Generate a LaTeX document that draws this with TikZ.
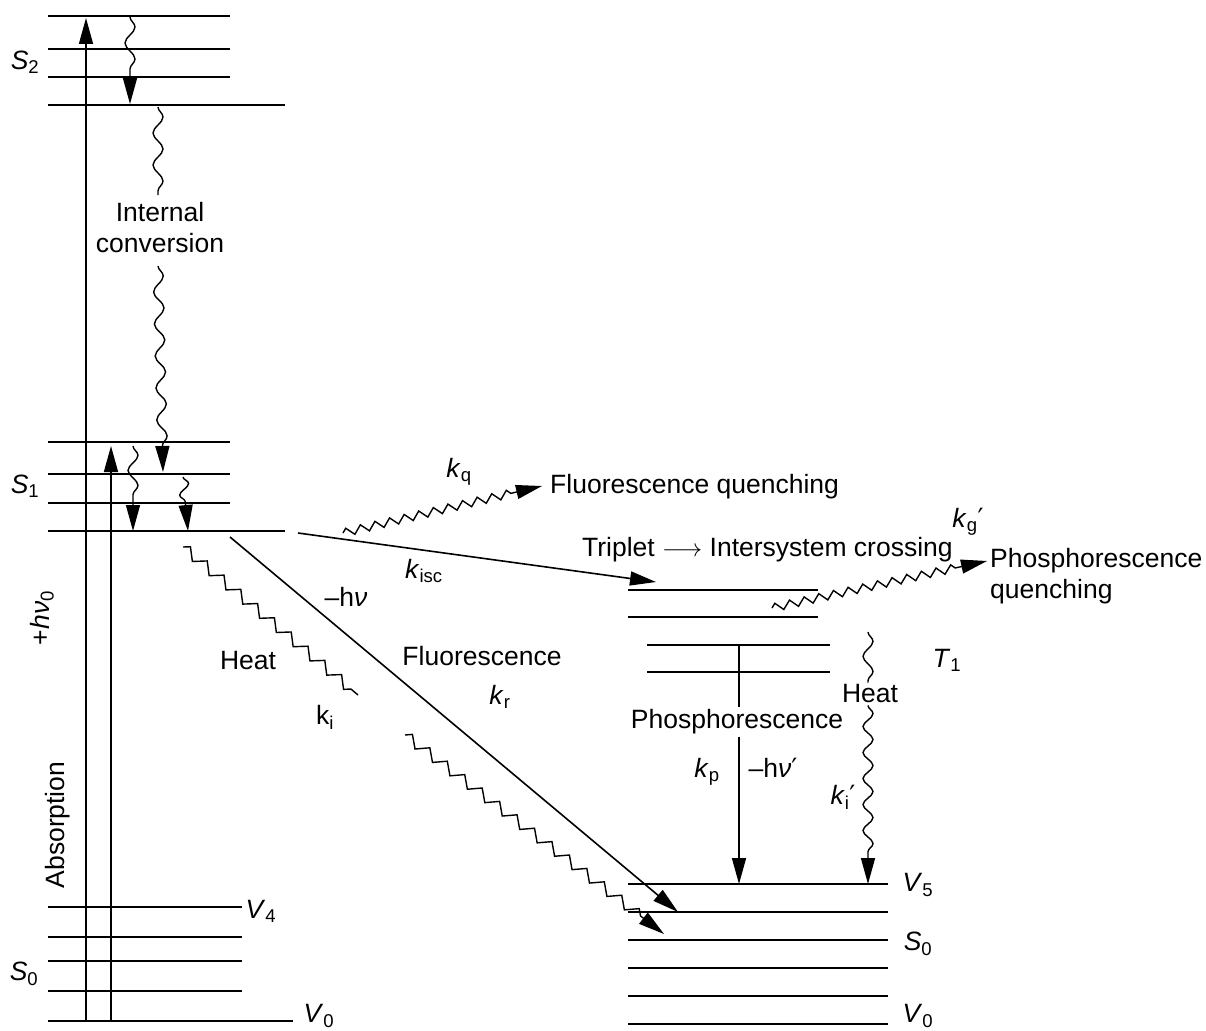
\documentclass[tikz,border=0pt]{standalone}
\usepackage{fontspec}
\setmainfont{Liberation Sans}
\newfontfamily\djv{DejaVu Sans}
\usetikzlibrary{arrows.meta,decorations.pathmorphing}
\newcommand{\prm}{{\djv ′}}
\begin{document}
\begin{tikzpicture}[x=1pt,y=-1pt,
  lvl/.style={line width=1.6pt},
  bigtip/.style={-{Triangle[length=26pt,width=14pt]}},
  arr/.style={line width=1.6pt,bigtip},
  snk/.style={line width=1.4pt,decorate,decoration={snake,segment length=32pt,amplitude=5pt,post length=26pt}},
  zz/.style={line width=1.4pt,decorate,decoration={zigzag,segment length=22pt,amplitude=5pt,post length=20pt}},
  zq/.style={line width=1.4pt,decorate,decoration={zigzag,segment length=15pt,amplitude=4pt,post length=26pt}},
  lbl/.style={font=\fontsize{26.5}{31}\selectfont,inner sep=1pt},
  every node/.style={lbl}]
\useasboundingbox (0,0) rectangle (1206,1030);
% ---- left levels
\foreach \y in {16,49,77} \draw[lvl] (48,\y) -- (230,\y);
\draw[lvl] (48,105) -- (285,105);
\foreach \y in {442,474,503} \draw[lvl] (48,\y) -- (230,\y);
\draw[lvl] (48,531) -- (285,531);
\foreach \y in {907,937,961,991} \draw[lvl] (48,\y) -- (242,\y);
\draw[lvl] (48,1021) -- (293,1021);
% ---- right levels
\draw[lvl] (628,590) -- (818,590);
\draw[lvl] (628,617) -- (818,617);
\draw[lvl] (647,645) -- (830,645);
\draw[lvl] (647,672) -- (830,672);
\foreach \y in {884,912,940,968,996,1024} \draw[lvl] (628,\y) -- (888,\y);
% ---- coordinates
\coordinate (a1s) at (86,1021);  \coordinate (a1e) at (86,18);
\coordinate (a2s) at (111,1021); \coordinate (a2e) at (111,446);
\coordinate (w1s) at (130,17);  \coordinate (w1e) at (130,104);
\coordinate (ic1s) at (158,107); \coordinate (ic1e) at (158,195);
\coordinate (ic2s) at (158,266); \coordinate (ic2e) at (163,472);
\coordinate (w2s) at (133,446); \coordinate (w2e) at (133,531);
\coordinate (w3s) at (183,477); \coordinate (w3e) at (188,531);
\coordinate (h1s) at (183,547); \coordinate (h1e) at (358,695);
\coordinate (h2s) at (405,735); \coordinate (h2e) at (664,934);
\coordinate (fs) at (230,537);  \coordinate (fe) at (678,912);
\coordinate (is) at (298,533);  \coordinate (ie) at (656,582);
\coordinate (qs) at (343,533);  \coordinate (qe) at (542,486);
\coordinate (pqs) at (772,608); \coordinate (pqe) at (987,561);
\coordinate (ps) at (739,645);  \coordinate (pe) at (739,884);
\coordinate (hrs) at (868,632); \coordinate (hre) at (868,884);
% ---- absorption
\draw[arr] (a1s) -- (a1e);
\draw[arr] (a2s) -- (a2e);
% ---- internal conversion
\draw[snk,bigtip] (w1s) -- (w1e);
\draw[line width=1.4pt,decorate,decoration={snake,segment length=32pt,amplitude=5pt}] (ic1s) -- (ic1e);
\node[align=center] (ic) at (160,228) {Internal\\conversion};
\draw[snk,bigtip] (ic2s) -- (ic2e);
\draw[snk,bigtip,decoration={snake,segment length=30pt,amplitude=5pt,post length=28pt}] (w2s) -- (w2e);
\draw[snk,bigtip,decoration={snake,segment length=22pt,amplitude=5pt,post length=28pt}] (w3s) -- (w3e);
% ---- heat ki
\draw[zz,decoration={post length=0pt}] (h1s) -- (h1e);
\draw[zz,bigtip] (h2s) -- (h2e);
% ---- fluorescence
\draw[arr] (fs) -- (fe);
% ---- isc
\draw[arr] (is) -- (ie);
% ---- quenching
\draw[zq,bigtip] (qs) -- (qe);
\draw[zq,bigtip] (pqs) -- (pqe);
% ---- phosphorescence
\node[fill=white,inner sep=2pt] (phos) at (737,722) {Phosphorescence};
\draw[lvl] (ps) -- (ps |- phos.north);
\draw[arr] (ps |- phos.south) -- (pe);
% ---- heat right
\node[fill=white,inner sep=2pt] (heatr) at (870,694) {Heat};
\draw[line width=1.4pt,decorate,decoration={snake,segment length=30pt,amplitude=5pt}] (hrs) -- (hrs |- heatr.north);
\draw[snk,bigtip,decoration={snake,segment length=26pt,amplitude=5pt,post length=28pt}] (hrs |- heatr.south) -- (hre);
% ---- labels
\node (lS2) at (25,62) {\textit{S}\textsubscript{2}};
\node (lS1) at (25,486) {\textit{S}\textsubscript{1}};
\node (lS0) at (24,974) {\textit{S}\textsubscript{0}};
\node (lV4) at (261,911) {\textit{V}\textsubscript{4}};
\node (lV0) at (319,1016) {\textit{V}\textsubscript{0}};
\node (rV5) at (918,885) {\textit{V}\textsubscript{5}};
\node (rS0) at (918,944) {\textit{S}\textsubscript{0}};
\node (rV0) at (918,1016) {\textit{V}\textsubscript{0}};
\node (lT1) at (947,660) {\textit{T}\textsubscript{1}};
\node[rotate=90] (hv0) at (42,618) {+\textit{hν}\textsubscript{0}};
\node[rotate=90] (abs) at (58,825) {Absorption};
\node (kq) at (459,472) {\textit{k}\textsubscript{q}};
\node[anchor=west] (fq) at (549,487) {Fluorescence quenching};
\node[anchor=west] (trip) at (581,550) {Triplet $\longrightarrow$ Intersystem crossing};
\node (kisc) at (424,571) {\textit{k}\textsubscript{isc}};
\node (kg) at (968,522) {\textit{k}\textsubscript{g}\prm};
\node[anchor=west,align=left] (pq) at (989,576) {Phosphorescence\\quenching};
\node (hnu) at (346,597) {–h\textit{ν}};
\node (heatl) at (248,661) {Heat};
\node (ki) at (325,717) {k\textsubscript{i}};
\node (fl) at (482,656) {Fluorescence};
\node (kr) at (500,697) {\textit{k}\textsubscript{r}};
\node (kp) at (707,772) {\textit{k}\textsubscript{p}};
\node (hnup) at (773,768) {–h\textit{ν}\prm};
\node (kip) at (843,797) {\textit{k}\textsubscript{i}\prm};
\end{tikzpicture}
\end{document}
